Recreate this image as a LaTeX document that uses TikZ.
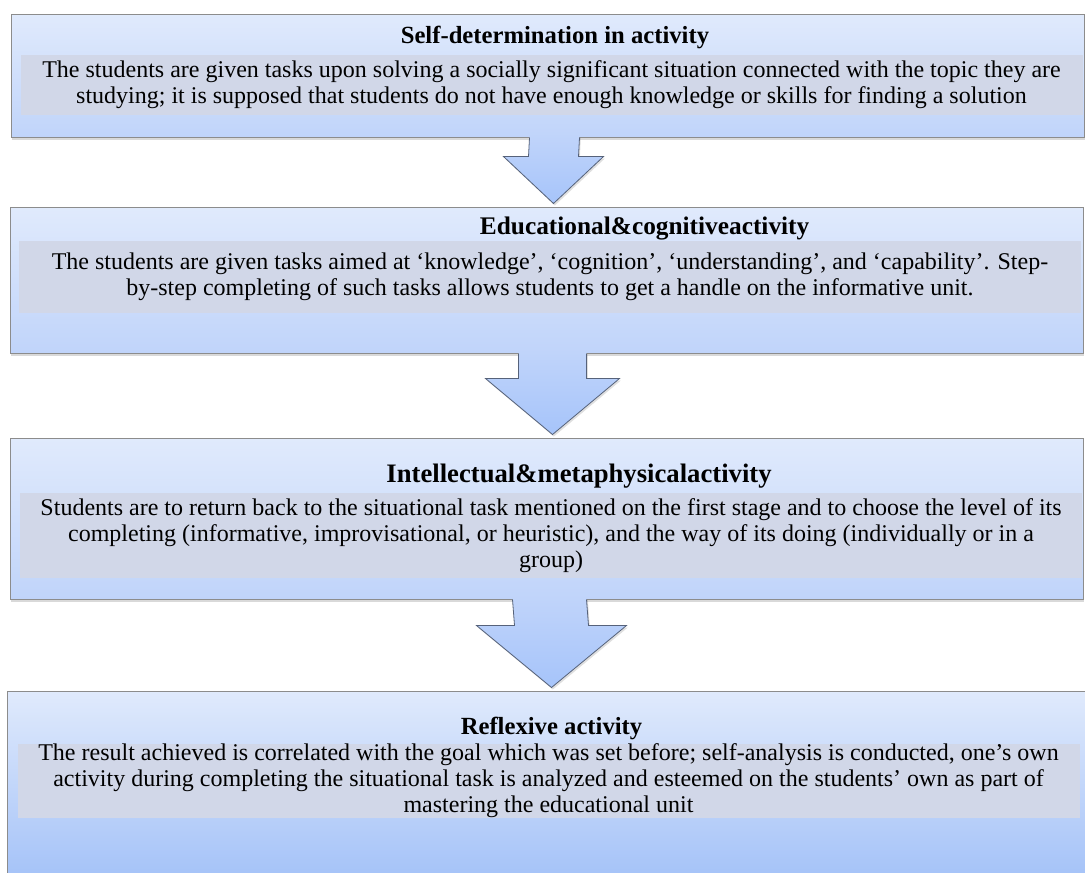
\documentclass[tikz,border=0pt]{standalone}
\usepackage{fontspec}
\setmainfont{Liberation Serif}
\usetikzlibrary{positioning,calc,shadows}
\definecolor{stagetop}{HTML}{E0EAFC}
\definecolor{stagebot}{HTML}{C0D4FA}
\definecolor{stagedeep}{HTML}{A4C2F8}
\definecolor{stageedge}{HTML}{8C8C8C}
\definecolor{bandgrey}{HTML}{D1D7E8}
\definecolor{arrowedge}{HTML}{56627A}
\definecolor{arrowbot}{HTML}{A6C4FA}

\begin{document}
\begin{tikzpicture}[
  x=0.75pt, y=-0.75pt,
  stage/.style={
    draw=stageedge, line width=0.75pt,
    top color=stagetop, bottom color=stagebot,
    minimum width=804.75pt, inner sep=0pt,
    drop shadow={shadow xshift=0.5pt, shadow yshift=-2pt, opacity=0.3}},
  band/.style={
    fill=bandgrey, minimum width=796.5pt, inner sep=0pt,
    align=center, font=\fontsize{18}{19.5}\selectfont, text=black},
  head/.style={font=\fontsize{18.5}{20}\selectfont\bfseries, anchor=base, inner sep=0pt},
  flowfill/.style={top color=stagebot, bottom color=arrowbot,
    drop shadow={shadow xshift=1pt, shadow yshift=-1.5pt, opacity=0.25}},
  flowedge/.style={draw=arrowedge, line width=0.6pt, line join=miter},
]
  \useasboundingbox (0,0) rectangle (1085,872);
  \clip (0,0) rectangle (1085,872);

  %% ---- Stage boxes ----
  \node[stage, minimum height=92.25pt]  (s1) at (547.5,75.5)  {};
  \node[stage, minimum height=109.5pt]  (s2) at (546.5,280)   {};
  \node[stage, minimum height=120.75pt] (s3) at (546.5,518.5) {};
  \node[stage, minimum height=141.75pt, minimum width=812.25pt,
        bottom color=stagedeep] (s4) at (548.5,785.5) {};

  %% ---- Block arrows between stages ----
  \foreach \a/\b/\dx/\sw/\hw/\hl in {s1/s2/7/25/50/47, s2/s3/6/34/67/56, s3/s4/3/37/75/62}{
    \path[flowfill] ($(\a.south)+(\dx-\sw,-2)$) -- ($(\b.north)+(\dx-\sw,-3-\hl)$)
      -- ($(\b.north)+(\dx-\hw,-3-\hl)$) -- ($(\b.north)+(\dx,-3)$)
      -- ($(\b.north)+(\dx+\hw,-3-\hl)$) -- ($(\b.north)+(\dx+\sw,-3-\hl)$)
      -- ($(\a.south)+(\dx+\sw,-2)$) -- cycle;
    \draw[flowedge] ($(\a.south)+(\dx-\sw,0)$) -- ($(\b.north)+(\dx-\sw,-3-\hl)$)
      -- ($(\b.north)+(\dx-\hw,-3-\hl)$) -- ($(\b.north)+(\dx,-3)$)
      -- ($(\b.north)+(\dx+\hw,-3-\hl)$) -- ($(\b.north)+(\dx+\sw,-3-\hl)$)
      -- ($(\a.south)+(\dx+\sw,0)$);
  }

  %% ---- Text bands ----
  \node[band, minimum height=45pt, below=30.75pt of s1.north, xshift=3pt] (b1)
    {The students are given tasks upon solving a socially significant situation connected with the topic they are\\
     studying; it is supposed that students do not have enough knowledge or skills for finding a solution};
  \node[band, minimum height=54pt, below=25.5pt of s2.north, xshift=2.6pt] (b2)
    {The students are given tasks aimed at ‘knowledge’, ‘cognition’, ‘understanding’, and ‘capability’. Step-\\
     by-step completing of such tasks allows students to get a handle on the informative unit.};
  \node[band, minimum height=63.75pt, below=41.25pt of s3.north, xshift=3.4pt] (b3)
    {Students are to return back to the situational task mentioned on the first stage and to choose the level of its\\
     completing (informative, improvisational, or heuristic), and the way of its doing (individually or in a\\
     group)};
  \node[band, minimum height=55.5pt, below=39.75pt of s4.north] (b4)
    {The result achieved is correlated with the goal which was set before; self-analysis is conducted, one’s own\\
     activity during completing the situational task is analyzed and esteemed on the students’ own as part of\\
     mastering the educational unit};

  %% ---- Stage titles ----
  \node[head] (h1) at ([xshift=2.6pt, yshift=8.25pt]b1.north) {Self-determination in activity};
  \node[head, font=\fontsize{19}{20}\selectfont\bfseries] (h2) at ([xshift=71pt, yshift=4.5pt]b2.north) {Educational\&cognitiveactivity};
  \node[head, font=\fontsize{20}{21}\selectfont\bfseries] (h3) at ([xshift=21pt, yshift=7.5pt]b3.north) {Intellectual\&metaphysicalactivity};
  \node[head] (h4) at ([xshift=2.25pt, yshift=6.75pt]b4.north) {Reflexive activity};

\end{tikzpicture}
\end{document}
